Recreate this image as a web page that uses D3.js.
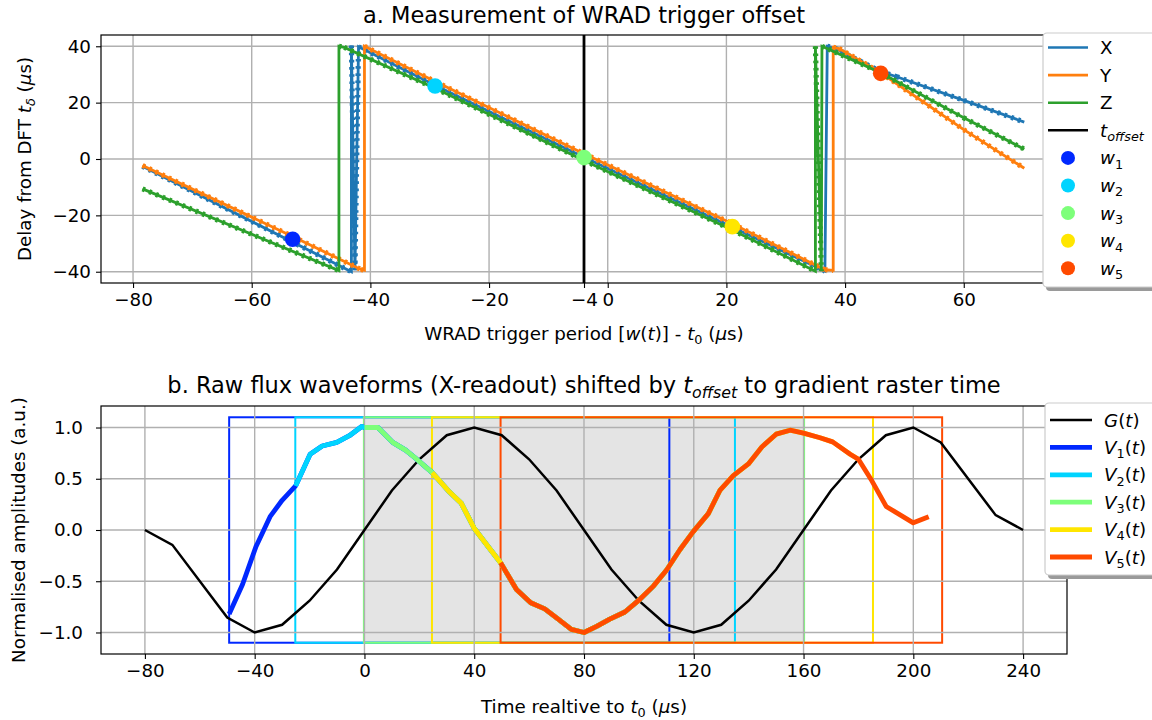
<!DOCTYPE html>
<html>
<head>
<meta charset="utf-8">
<script src="https://cdn.jsdelivr.net/npm/d3@7"></script>
<style>
body { margin: 0; background: #fff; }
svg { display: block; font-family: "DejaVu Sans", sans-serif; }
</style>
</head>
<body>
<svg id="chart" width="1152" height="720"></svg>
<script>
//panel a: trigger offset measurement
var xTicksA = [-80, -60, -40, -20, -4, 0, 20, 40, 60];
var yTicksA = [-40, -20, 0, 20, 40];
var tOffset = -4;

//delay curves [period, delay] for each gradient axis
var seriesX = [[-78.4, -2.6], [-43.2, -40], [-43.2, 40.3], [-42.6, -39.5], [-42.0, 39.8], [-29.1, 26.2], [-4, 0.6],
    [21, -24.2], [36.6, -39.8], [37.0, 40], [38.2, 39.4], [46, 31.0], [48.7, 29.2], [60, 20.8], [70.2, 13.1]];
var seriesY = [[-78.4, -2.3], [-53.1, -27.5], [-41.6, -39.2], [-41.0, -39.5], [-41.0, 40], [-29, 27.4], [-4, 1.9],
    [21, -23.0], [36.6, -39.3], [38.0, -39.5], [38.0, 39.6], [39.0, 39.2], [46, 30.6], [60, 10.4], [70.2, -3.3]];
var seriesZ = [[-78.4, -10.6], [-45.3, -39.6], [-45.3, 40], [-44.4, 39.6], [-29, 25.0], [-4, -0.5], [21, -25.2],
    [35.0, -39.8], [35.0, 40], [36.0, -39.8], [36.1, 40], [37.2, 39.0], [46, 30.6], [60, 14.6], [70.2, 3.5]];

//WRAD trigger points
var wPeriods = [-53.1, -29.1, -4, 21, 46];
var wDelays = [-28.5, 25.9, 0.5, -24, 30.4];
var wColors = ["#0028ff", "#00d4ff", "#7dff7a", "#ffe600", "#ff4a00"];

//panel b: raw flux waveforms
var xTicksB = [-80, -40, 0, 40, 80, 120, 160, 200, 240];
var yTicksB = [-1.0, -0.5, 0.0, 0.5, 1.0];

var gTimes = [-80, -70, -50, -40, -30, -20, -10, 0, 10, 20, 30, 40, 50, 60, 70, 80, 90, 100, 110, 120, 130, 140,
    150, 160, 170, 180, 190, 200, 210, 230, 240];
var gValues = [0, -0.145, -0.855, -1, -0.925, -0.69, -0.385, 0, 0.385, 0.69, 0.925, 1, 0.925, 0.69, 0.385, 0,
    -0.385, -0.69, -0.925, -1, -0.925, -0.69, -0.385, 0, 0.385, 0.69, 0.925, 1, 0.855, 0.145, 0];

var vTimes = [-49.3, -44.4, -39.5, -34.4, -30, -25.1, -19.8, -15.4, -10.1, -5.5, -1, 0, 4.9, 10.3, 15, 18.2,
    24.7, 31, 35.3, 39.9, 45.6, 49.6, 55.4, 60.6, 65.7, 70.6, 75.4, 80, 84.6, 89.4, 94.9, 99.8, 105.2, 110.1, 115,
    119.8, 125.3, 129.6, 134.4, 139.9, 144.8, 150, 155.1, 160, 166, 170.6, 177, 180, 184.9, 190.1, 200, 205.6];
var vValues = [-0.82, -0.53, -0.16, 0.13, 0.29, 0.43, 0.74, 0.82, 0.855, 0.92, 1.01, 1.0, 1.0, 0.855, 0.78, 0.71,
    0.56, 0.37, 0.26, 0.02, -0.18, -0.32, -0.58, -0.71, -0.77, -0.87, -0.97, -1.0, -0.94, -0.87, -0.8, -0.69, -0.55,
    -0.39, -0.19, -0.016, 0.16, 0.39, 0.53, 0.645, 0.81, 0.935, 0.974, 0.945, 0.90, 0.86, 0.74, 0.69, 0.48, 0.23,
    0.07, 0.13];

//readout windows for w1..w5
var winStart = [-49.3, -25.2, -0.2, 24.6, 49.6];
var winEnd = [111.1, 135, 160.2, 185.3, 210.5];
var winSpan = 156.5;
var winAmp = 1.1;

var svg = d3.select("#chart");
svg.append("rect").attr("width", 1152).attr("height", 720).attr("fill", "#fff");

var A = { left: 101, right: 1067, top: 35, bottom: 283 };
var B = { left: 101, right: 1067, top: 406, bottom: 654 };

var xA = d3.scaleLinear().domain([-85.4, 77.4]).range([A.left, A.right]);
var yA = d3.scaleLinear().domain([-44, 44]).range([A.bottom, A.top]);
var xB = d3.scaleLinear().domain([-96, 256]).range([B.left, B.right]);
var yB = d3.scaleLinear().domain([-1.21, 1.21]).range([B.bottom, B.top]);

var fs = 18.3;
var titleFs = 22.5;

//write text with italic parts and subscripts
function mathText(sel, parts, size) {
    var shift = 0;
    parts.forEach(function(p) {
        var ts = sel.append("tspan").text(p.t);
        if (p.i) ts.style("font-style", "italic");
        var target = p.sub ? size * 0.24 : 0;
        if (target != shift) { ts.attr("dy", target - shift); shift = target; }
        if (p.sub) ts.attr("font-size", size * 0.7);
    });
}

var defs = svg.append("defs");
defs.append("clipPath").attr("id", "clipA").append("rect")
    .attr("x", A.left).attr("y", A.top).attr("width", A.right - A.left).attr("height", A.bottom - A.top);
defs.append("clipPath").attr("id", "clipB").append("rect")
    .attr("x", B.left).attr("y", B.top).attr("width", B.right - B.left).attr("height", B.bottom - B.top);

function grid(g, box, xs, ys, xTicks, yTicks) {
    g.selectAll(".gx").data(xTicks).enter().append("line")
        .attr("x1", function(d) { return xs(d); }).attr("x2", function(d) { return xs(d); })
        .attr("y1", box.top).attr("y2", box.bottom)
        .attr("stroke", "#b0b0b0").attr("stroke-width", 1.4);
    g.selectAll(".gy").data(yTicks).enter().append("line")
        .attr("y1", function(d) { return ys(d); }).attr("y2", function(d) { return ys(d); })
        .attr("x1", box.left).attr("x2", box.right)
        .attr("stroke", "#b0b0b0").attr("stroke-width", 1.4);
}

function axes(box, xs, ys, xTicks, yTicks, yFmt, yPad) {
    var g = svg.append("g");
    var xAxis = d3.axisBottom(xs).tickValues(xTicks).tickSize(5).tickPadding(5).tickFormat(d3.format("d"));
    var gx = g.append("g").attr("transform", "translate(0," + box.bottom + ")").call(xAxis);
    var yAxis = d3.axisLeft(ys).tickValues(yTicks).tickSize(5).tickPadding(yPad).tickFormat(yFmt);
    var gy = g.append("g").attr("transform", "translate(" + box.left + ",0)").call(yAxis);
    [gx, gy].forEach(function(a) {
        a.select(".domain").remove();
        a.selectAll(".tick line").attr("stroke", "#000").attr("stroke-width", 1.1);
        a.selectAll(".tick text").attr("fill", "#000").attr("font-size", fs)
            .attr("font-family", "DejaVu Sans");
    });
    g.append("rect").attr("x", box.left).attr("y", box.top)
        .attr("width", box.right - box.left).attr("height", box.bottom - box.top)
        .attr("fill", "none").attr("stroke", "#000").attr("stroke-width", 1.2);
}

//---------- panel a ----------
var gA = svg.append("g");
grid(gA, A, xA, yA, xTicksA, yTicksA);

var lineA = d3.line().x(function(d) { return xA(d[0]); }).y(function(d) { return yA(d[1]); });
var plotA = gA.append("g").attr("clip-path", "url(#clipA)");

function delaySeries(pts, color) {
    plotA.append("path").datum(pts).attr("d", lineA)
        .attr("fill", "none").attr("stroke", color).attr("stroke-width", 2.8).attr("stroke-linejoin", "miter");
    //small staircase teeth on the sloped parts
    var segs = "";
    for (var i = 1; i < pts.length; i++) {
        if (Math.abs(pts[i][0] - pts[i - 1][0]) > 0.4) {
            segs += "M" + xA(pts[i - 1][0]) + "," + yA(pts[i - 1][1]) + "L" + xA(pts[i][0]) + "," + yA(pts[i][1]);
        }
    }
    plotA.append("path").attr("d", segs).attr("fill", "none").attr("stroke", color)
        .attr("stroke-width", 5.2).attr("stroke-dasharray", "2.6,4.6");
}
delaySeries(seriesX, "#1f77b4");
delaySeries(seriesY, "#ff7f0e");
delaySeries(seriesZ, "#2ca02c");

plotA.append("line").attr("x1", xA(tOffset)).attr("x2", xA(tOffset))
    .attr("y1", A.top).attr("y2", A.bottom).attr("stroke", "#000").attr("stroke-width", 2.8);

plotA.selectAll(".w").data(wPeriods).enter().append("circle")
    .attr("cx", function(d) { return xA(d); })
    .attr("cy", function(d, i) { return yA(wDelays[i]); })
    .attr("r", 7.8)
    .attr("fill", function(d, i) { return wColors[i]; });

axes(A, xA, yA, xTicksA, yTicksA, d3.format("d"), 5);

svg.append("text").attr("x", (A.left + A.right) / 2).attr("y", 23).attr("text-anchor", "middle")
    .attr("font-size", titleFs).text("a. Measurement of WRAD trigger offset");

mathText(svg.append("text").attr("x", (A.left + A.right) / 2).attr("y", 340).attr("text-anchor", "middle")
    .attr("font-size", fs), [
    { t: "WRAD trigger period [" }, { t: "w", i: 1 }, { t: "(" }, { t: "t", i: 1 }, { t: ")] - " },
    { t: "t", i: 1 }, { t: "0", sub: 1 }, { t: " (" }, { t: "μ", i: 1 }, { t: "s)" }
], fs);

mathText(svg.append("text").attr("transform", "translate(31," + (A.top + A.bottom) / 2 + ") rotate(-90)")
    .attr("text-anchor", "middle").attr("font-size", fs), [
    { t: "Delay from DFT " }, { t: "t", i: 1 }, { t: "δ", i: 1, sub: 1 }, { t: " (" }, { t: "μ", i: 1 }, { t: "s)" }
], fs);

//legend a
function legendFrame(x, y, h) {
    svg.append("rect").attr("x", x + 3).attr("y", y + 4).attr("width", 130).attr("height", h)
        .attr("rx", 4).attr("fill", "#9a9a9a");
    svg.append("rect").attr("x", x).attr("y", y).attr("width", 130).attr("height", h)
        .attr("rx", 4).attr("fill", "#fff").attr("stroke", "#cccccc").attr("stroke-width", 1.2);
}
legendFrame(1043, 33, 254);
var legA = [
    { type: "line", color: "#1f77b4", parts: [{ t: "X" }] },
    { type: "line", color: "#ff7f0e", parts: [{ t: "Y" }] },
    { type: "line", color: "#2ca02c", parts: [{ t: "Z" }] },
    { type: "line", color: "#000", parts: [{ t: "t", i: 1 }, { t: "offset", i: 1, sub: 1 }] }
];
wColors.forEach(function(c, i) {
    legA.push({ type: "dot", color: c, parts: [{ t: "w", i: 1 }, { t: String(i + 1), sub: 1 }] });
});
legA.forEach(function(d, i) {
    var y = 47.5 + i * 27.6;
    if (d.type == "line") {
        svg.append("line").attr("x1", 1048).attr("x2", 1088).attr("y1", y).attr("y2", y)
            .attr("stroke", d.color).attr("stroke-width", 2.6);
    } else {
        svg.append("circle").attr("cx", 1068).attr("cy", y).attr("r", 7).attr("fill", d.color);
    }
    mathText(svg.append("text").attr("x", 1100).attr("y", y + 6.5).attr("font-size", fs), d.parts, fs);
});

//---------- panel b ----------
var gB = svg.append("g");
var winG = gB.append("g").attr("clip-path", "url(#clipB)");
winG.append("rect").attr("x", xB(winStart[2])).attr("y", yB(winAmp))
    .attr("width", xB(winEnd[2]) - xB(winStart[2])).attr("height", yB(-winAmp) - yB(winAmp))
    .attr("fill", "#e4e4e4");
winStart.forEach(function(s, i) {
    winG.append("rect").attr("x", xB(s)).attr("y", yB(winAmp))
        .attr("width", xB(winEnd[i]) - xB(s)).attr("height", yB(-winAmp) - yB(winAmp))
        .attr("fill", "none").attr("stroke", wColors[i]).attr("stroke-width", 2);
});
grid(gB, B, xB, yB, xTicksB, yTicksB);

var plotB = gB.append("g").attr("clip-path", "url(#clipB)");
var lineB = d3.line().x(function(d) { return xB(d[0]); }).y(function(d) { return yB(d[1]); });
var gPts = gTimes.map(function(t, i) { return [t, gValues[i]]; });
plotB.append("path").datum(gPts).attr("d", lineB).attr("fill", "none")
    .attr("stroke", "#000").attr("stroke-width", 2.5);

var vPts = vTimes.map(function(t, i) { return [t, vValues[i]]; });
winStart.forEach(function(s, i) {
    var pts = vPts.filter(function(p) { return p[0] >= s - 0.3 && p[0] <= s + winSpan; });
    plotB.append("path").datum(pts).attr("d", lineB).attr("fill", "none")
        .attr("stroke", wColors[i]).attr("stroke-width", 4.8).attr("stroke-linejoin", "round");
});

axes(B, xB, yB, xTicksB, yTicksB, d3.format(".1f"), 13);

mathText(svg.append("text").attr("x", (B.left + B.right) / 2).attr("y", 393).attr("text-anchor", "middle")
    .attr("font-size", titleFs), [
    { t: "b. Raw flux waveforms (X-readout) shifted by " }, { t: "t", i: 1 }, { t: "offset", i: 1, sub: 1 },
    { t: " to gradient raster time" }
], titleFs);

mathText(svg.append("text").attr("x", (B.left + B.right) / 2).attr("y", 713).attr("text-anchor", "middle")
    .attr("font-size", fs), [
    { t: "Time realtive to " }, { t: "t", i: 1 }, { t: "0", sub: 1 }, { t: " (" }, { t: "μ", i: 1 }, { t: "s)" }
], fs);

svg.append("text").attr("transform", "translate(25," + (B.top + B.bottom) / 2 + ") rotate(-90)")
    .attr("text-anchor", "middle").attr("font-size", fs).text("Normalised amplitudes (a.u.)");

//legend b
legendFrame(1045, 403, 172);
var legB = [{ color: "#000", width: 2.5, parts: [{ t: "G", i: 1 }, { t: "(" }, { t: "t", i: 1 }, { t: ")" }] }];
wColors.forEach(function(c, i) {
    legB.push({ color: c, width: 4.8, parts: [{ t: "V", i: 1 }, { t: String(i + 1), sub: 1 }, { t: "(" },
        { t: "t", i: 1 }, { t: ")" }] });
});
legB.forEach(function(d, i) {
    var y = 420 + i * 27.4;
    svg.append("line").attr("x1", 1050).attr("x2", 1092).attr("y1", y).attr("y2", y)
        .attr("stroke", d.color).attr("stroke-width", d.width);
    mathText(svg.append("text").attr("x", 1104).attr("y", y + 6.5).attr("font-size", fs), d.parts, fs);
});
</script>
</body>
</html>
